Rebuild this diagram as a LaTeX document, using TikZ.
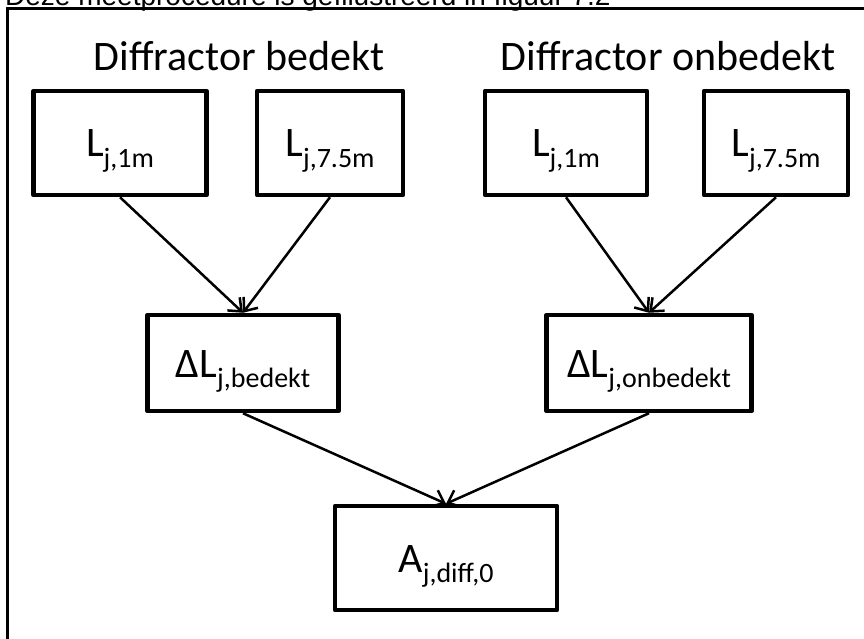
\documentclass[tikz,border=0pt]{standalone}
\usepackage{fontspec}
\setmainfont{Carlito}
\newfontfamily\capfont{Liberation Sans}
\usetikzlibrary{arrows.meta}
\newcommand\lowsub[1]{\raisebox{-0.24em}{\fontsize{28}{28}\selectfont #1}}
\tikzset{
  box/.style={draw, line width=4.5pt, line join=round, inner sep=0pt,
    minimum height=104pt, text height=40pt, text depth=12pt,
    font=\fontsize{42}{44}\selectfont},
  title/.style={anchor=base, inner sep=0pt, font=\fontsize{42}{44}\selectfont},
}

\begin{document}
\begin{tikzpicture}[x=1pt, y=-1pt, grow'=up, parent anchor=north, child anchor=south,
  level 1/.style={level distance=195pt, sibling distance=406pt},
  level 2/.style={level distance=220pt, sibling distance=210pt},
  edge from parent/.style={draw, line width=2.5pt, {Straight Barb[length=11pt,width=18pt]}-}]
  \useasboundingbox (0,0) rectangle (864,639);
  \draw[line width=3pt] (7,660) |- (880,9);
  \node[anchor=base west, inner sep=0pt, font=\capfont\fontsize{28}{30}\selectfont] (cap) at (5,6)
    {Deze meetprocedure is geïllustreerd in figuur 7.2};
  \node[title] (tb) at (239,71) {Diffractor bedekt};
  \node[title] (to) at (668,71) {Diffractor onbedekt};
  \node[box, minimum width=222pt] (diff) at (446,558) {A\lowsub{j,diff,0}}
    child { node[box, minimum height=96pt, minimum width=191pt] (db) {ΔL\lowsub{j,bedekt}}
      child[xshift=-18pt] { node[box, minimum width=173pt] (b1) {L\lowsub{j,1m}} }
      child[xshift=-18pt] { node[box, minimum width=146pt] (b7) {L\lowsub{j,7.5m}} } }
    child { node[box, minimum height=96pt, minimum width=205pt] (do) {ΔL\lowsub{j,onbedekt}}
      child[xshift=22pt] { node[box, minimum width=162pt] (o1) {L\lowsub{j,1m}} }
      child[xshift=22pt] { node[box, minimum width=144pt] (o7) {L\lowsub{j,7.5m}} } };
\end{tikzpicture}
\end{document}
